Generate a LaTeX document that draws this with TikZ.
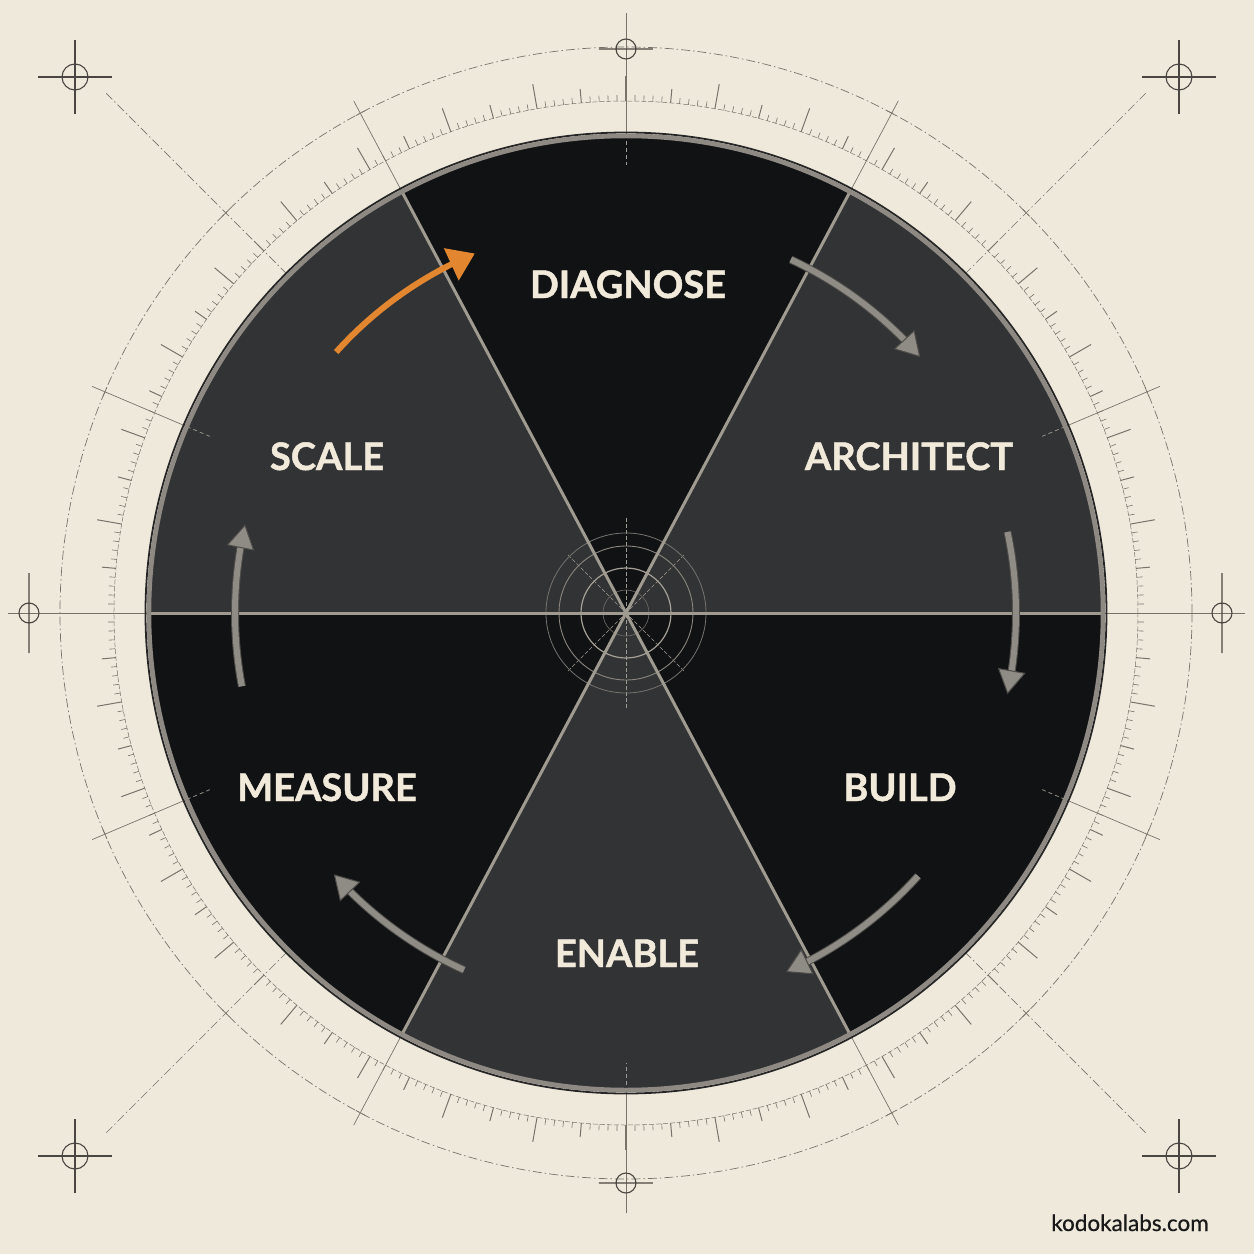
\documentclass[tikz,border=0pt]{standalone}
\usepackage{fontspec}
\setmainfont{Lato}
\newfontfamily\lblfont{Lato}[BoldFeatures={FakeBold=1.2}]
\newfontfamily\sitefont{Lato}[FakeBold=0.6]
\usetikzlibrary{arrows.meta,bending}
\definecolor{bg}{HTML}{EFE9DC}
\definecolor{bgedge}{HTML}{E7E0D3}
\definecolor{bgcorner}{HTML}{D9D2C6}
\definecolor{secdark}{HTML}{111214}
\definecolor{secgray}{HTML}{323335}
\definecolor{divline}{HTML}{A09B91}
\definecolor{rim}{HTML}{8E8A83}
\definecolor{thinc}{HTML}{77736B}
\definecolor{crossc}{HTML}{4A4742}
\definecolor{cream}{HTML}{F1EADB}
\definecolor{agray}{HTML}{8F8B85}
\definecolor{aedge}{HTML}{4F4D49}
\definecolor{aorange}{HTML}{E2872F}
\pgfdeclareradialshading{vign}{\pgfpoint{0bp}{0bp}}{color(0bp)=(bg); color(42bp)=(bg); color(52bp)=(bgedge); color(71bp)=(bgcorner)}
\begin{document}
\begin{tikzpicture}[x=1pt,y=1pt,
  thinline/.style={draw=thinc,line width=0.7pt},
  dashdot/.style={thinline,dash pattern=on 9pt off 3pt on 1.5pt off 3pt},
  innerdash/.style={draw=divline,line width=0.7pt,dash pattern=on 4pt off 3pt},
  crossmark/.style={draw=crossc,line width=1.1pt},
  seclabel/.style={text=cream,font=\lblfont\fontsize{38}{40}\selectfont\bfseries,anchor=base,inner sep=0pt},
  cornercross/.pic={\draw[crossmark] (0,0) circle[radius=13]; \draw[crossmark] (-37,0)--(37,0) (0,-37)--(0,37);},
  garrow/.style={draw=agray,line width=6pt,-{Triangle[length=24pt,width=28pt,fill=agray,color=aedge,line width=1pt]}},
  gedge/.style={draw=aedge,line width=8pt},
  ]
\useasboundingbox (-626,-641) rectangle (628,613);
\shade[shading=vign] (-626,-641) rectangle (628,613);

% outer guide circle and tick ring
\draw[dashdot] (0,0) circle[radius=566];
\draw[draw=thinc,line width=0.5pt,dash pattern=on 5pt off 2pt] (0,0) circle[radius=512];
\foreach \a in {0,...,359}{
  \pgfmathsetmacro\tl{mod(\a,10)==0 ? 537 : (mod(\a,5)==0 ? 526 : 518)}
  \pgfmathsetmacro\tw{mod(\a,5)==0 ? 1.0 : 0.6}
  \draw[draw=thinc,line width=\tw pt,rotate=\a] (512,0) -- (\tl,0);
}

% radial guide lines
\foreach \a in {45,135,225,315}{
  \draw[dashdot] (\a:479) -- (\a:735);
  \draw[thinline,rotate=\a] (566,-5) -- (566,5);
}
\foreach \a in {62,118,242,298}{
  \draw[thinline] (\a:479) -- (\a:580);
  \draw[thinline,rotate=\a] (566,-5) -- (566,5);
}
\foreach \a in {23,157,203,337}{
  \draw[thinline] (\a:479) -- (\a:580);
  \draw[thinline,rotate=\a] (566,-5) -- (566,5);
}

% axis lines
\draw[thinline] (-618,0) -- (-479,0);
\draw[thinline] (479,0) -- (619,0);
\draw[thinline] (0,600) -- (0,479);
\draw[thinline] (0,-600) -- (0,-479);

% crosshairs
\pic at (-551,536) {cornercross};
\pic at (553,536) {cornercross};
\pic at (-551,-543) {cornercross};
\pic at (553,-543) {cornercross};
\draw[crossmark] (-597,0) circle[radius=10] (-597,-40) -- (-597,40);
\draw[crossmark] (596,0) circle[radius=10] (596,-40) -- (596,40);
\draw[crossmark] (0,564) circle[radius=10] (-27,564) -- (27,564);
\draw[crossmark] (0,-570) circle[radius=10] (-27,-570) -- (27,-570);

% sectors
\fill[secgray] (0,0) -- (0:479) arc[start angle=0,end angle=62,radius=479] -- cycle;
\fill[secdark] (0,0) -- (62:479) arc[start angle=62,end angle=118,radius=479] -- cycle;
\fill[secgray] (0,0) -- (118:479) arc[start angle=118,end angle=180,radius=479] -- cycle;
\fill[secdark] (0,0) -- (180:479) arc[start angle=180,end angle=242,radius=479] -- cycle;
\fill[secgray] (0,0) -- (242:479) arc[start angle=242,end angle=298,radius=479] -- cycle;
\fill[secdark] (0,0) -- (298:479) arc[start angle=298,end angle=360,radius=479] -- cycle;

% inner guide dashes
\draw[innerdash] (0,479) -- (0,448);
\draw[innerdash] (0,-479) -- (0,-450);
\foreach \a in {23,157,203,337} \draw[innerdash] (\a:452) -- (\a:479);

% center ornament
\draw[draw=divline,line width=0.6pt,dash pattern=on 4pt off 2pt] (0,-95) -- (0,95);
\foreach \a in {45,135,225,315} \draw[draw=divline,line width=0.5pt,dash pattern=on 4pt off 2pt] (0,0) -- (\a:82);
\draw[draw=divline!60!secdark,line width=0.7pt] (0,0) circle[radius=23];
\draw[draw=divline!95!white,line width=1.2pt] (0,0) circle[radius=45];
\draw[draw=divline!85!secdark,line width=0.9pt] (0,0) circle[radius=67];
\draw[draw=divline!70!secdark,line width=0.8pt] (0,0) circle[radius=80];

% dividers
\foreach \a in {0,62,118,180,242,298} \draw[draw=divline,line width=3pt] (0,0) -- (\a:478);

% rim
\draw[draw=rim,line width=4.5pt] (0,0) circle[radius=477];
\draw[draw=black!85,line width=1.8pt] (0,0) circle[radius=480.5];

% cycle arrows
\draw[gedge] (65:390) arc[start angle=65,end angle=44.5,radius=390];
\draw[garrow] (65:390) arc[start angle=65,end angle=41,radius=390];
\draw[gedge] (12:390) arc[start angle=12,end angle=-8.5,radius=390];
\draw[garrow] (12:390) arc[start angle=12,end angle=-12,radius=390];
\draw[gedge] (-42:393) arc[start angle=-42,end angle=-62.5,radius=393];
\draw[garrow] (-42:393) arc[start angle=-42,end angle=-66,radius=393];
\draw[gedge] (245.6:392) arc[start angle=245.6,end angle=225.3,radius=392];
\draw[garrow] (245.6:392) arc[start angle=245.6,end angle=221.8,radius=392];
\draw[gedge] (190.8:391) arc[start angle=190.8,end angle=170.4,radius=391];
\draw[garrow] (190.8:391) arc[start angle=190.8,end angle=166.9,radius=391];
\draw[draw=aorange,line width=6pt,-{Triangle[length=26pt,width=34pt,fill=aorange]}] (138:390) arc[start angle=138,end angle=112.8,radius=390];

% labels
\node[seclabel] (diagnose) at (2,315) {DIAGNOSE};
\node[seclabel] (architect) at (283,143) {ARCHITECT};
\node[seclabel] (build) at (274,-188) {BUILD};
\node[seclabel] (enable) at (1,-354) {ENABLE};
\node[seclabel] (measure) at (-299,-188) {MEASURE};
\node[seclabel] (scale) at (-299,143) {SCALE};
\node[font=\sitefont\fontsize{22.5}{25}\selectfont,text=black!90,anchor=base,inner sep=0pt] (site) at (504,-618) {kodokalabs.com};
\end{tikzpicture}
\end{document}
